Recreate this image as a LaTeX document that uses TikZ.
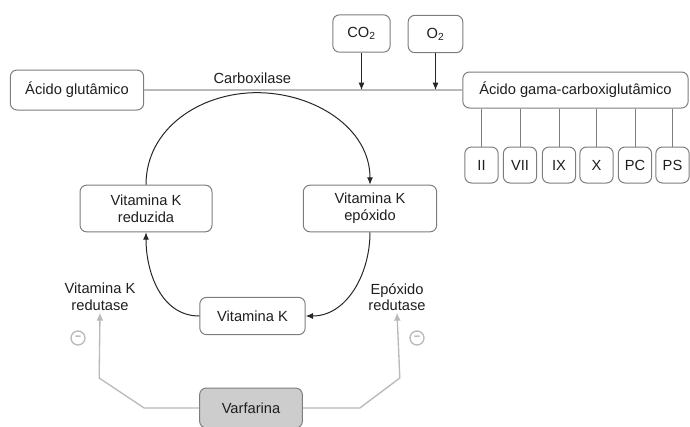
\documentclass[tikz,border=0pt]{standalone}
\usepackage{fontspec}
\setmainfont{Liberation Sans}
\usetikzlibrary{arrows.meta}
\tikzset{every picture/.style={line width=0.75pt}}
\definecolor{boxline}{RGB}{125,125,125}
\definecolor{txt}{RGB}{30,30,30}
\definecolor{inhgray}{RGB}{185,185,185}
\definecolor{varfill}{RGB}{205,205,205}
\tikzset{
  box/.style={draw=boxline, rounded corners=5, text=txt, inner sep=0pt, align=center, font=\fontsize{11}{12.5}\selectfont},
  fbox/.style={box, minimum width=25pt, minimum height=27pt},
  lbl/.style={text=txt, align=center, inner sep=1pt, font=\fontsize{11}{12.5}\selectfont},
  flow/.style={draw=black!85, -{Latex[length=5.5pt,width=4.5pt]}},
  inh/.style={draw=inhgray, line width=1pt, -{Latex[length=6pt,width=5pt]}},
  minus/.style={circle, draw=inhgray, line width=1pt, inner sep=0pt, minimum size=10.5pt, text=inhgray!85!black, font=\bfseries\fontsize{8}{8}\selectfont},
}

\begin{document}
\begin{tikzpicture}[x=0.75pt,y=0.75pt,yscale=-1,xscale=1]
\useasboundingbox (0,0) rectangle (690,426);

% Nodes
\node[box, minimum width=100pt, minimum height=30pt] (glut) at (77,90) {Ácido glutâmico};
\node[box, minimum width=169pt, minimum height=27pt] (gama) at (575.5,90) {Ácido gama-carboxiglutâmico};
\node[box, minimum width=43pt, minimum height=28pt] (co2) at (361.5,33.5) {CO\textsubscript{2}};
\node[box, minimum width=41pt, minimum height=28pt] (o2) at (435.5,34) {O\textsubscript{2}};
\node[box, minimum width=99pt, minimum height=35pt] (red) at (146,208.5) {Vitamina K\\reduzida};
\node[box, minimum width=100pt, minimum height=35pt] (epo) at (370,208.5) {Vitamina K\\epóxido};
\node[box, minimum width=79pt, minimum height=28pt] (vitk) at (252.5,316) {Vitamina K};
\node[box, fill=varfill, minimum width=77pt, minimum height=30pt] (varf) at (251,408) {Varfarina};
\node[lbl] (vkred) at (100,297) {Vitamina K\\redutase};
\node[lbl] (epored) at (397,297) {Epóxido\\redutase};

% Fatores
\foreach \f/\x in {II/481.5, VII/520, IX/559, X/596.5, PC/635, PS/672.5}{
  \node[fbox] (f\f) at (\x,165) {\f};
  \draw[boxline] (f\f.north) -- (f\f.north |- gama.south);
}

% Carboxilase
\draw[inhgray, line width=1.8pt] (glut.east) -- (gama.west)
  node[pos=0.34, above=3pt, lbl] (carb) {Carboxilase}
  coordinate[pos=0.354] (ctop);
\draw[flow] (co2.south) -- (co2.south |- glut.east);
\draw[flow] (o2.south) -- (o2.south |- glut.east);

% Ciclo
\draw[flow] (red.north) to[out=-90,in=180] ([yshift=2]ctop) to[out=0,in=-90] (epo.north);
\draw[flow] (epo.south) to[out=90,in=0] (vitk.east);
\draw[flow] (vitk.west) to[out=180,in=90] (red.south);

% Inibicao
\draw[inh] (varf.west) -- ++(-55,0) -- ++(-45,-30) -- (vkred.south);
\draw[inh] (varf.east) -- ++(57,0) -- ++(40,-30) -- (epored.south);
\node[minus] (mL) at (78,338) {--};
\node[minus] (mR) at (417,338) {--};
\end{tikzpicture}
\end{document}
